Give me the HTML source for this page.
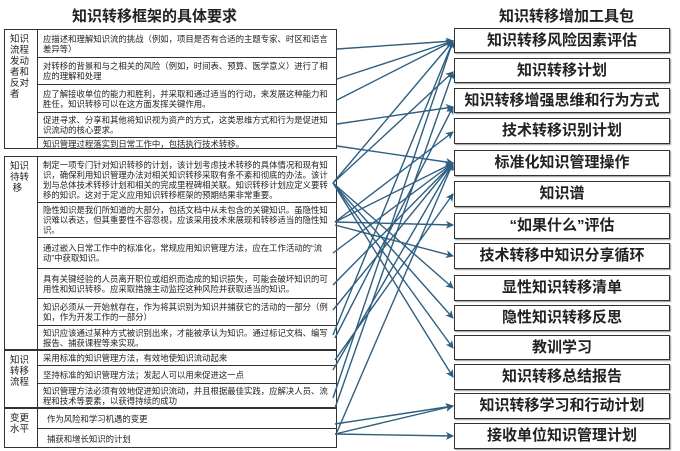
<!DOCTYPE html>
<html><head><meta charset="utf-8"><style>
*{margin:0;padding:0;box-sizing:border-box}
body{width:680px;height:451px;background:#fff;position:relative;overflow:hidden;font-family:"Liberation Sans","Noto Sans CJK SC",sans-serif;color:#222}
.a{position:absolute}
.t{font-weight:bold;font-size:15px;color:#222}
.sec{position:absolute;left:4px;width:333px;border:1px solid #333}
.lab{position:absolute;left:0;top:0;bottom:0;width:33px;border-right:1px solid #333;font-size:9.5px;line-height:11px;padding:4px 0 0 5px}
.row{position:absolute;left:33px;right:0;border-bottom:1px solid #333;font-size:8.4px;line-height:10px;padding:0 4px 0 5px;display:flex;align-items:center}
.row:last-child{border-bottom:none}
.box{position:absolute;left:454px;width:216px;border:1.5px solid #333;box-shadow:1px 1px 1px #999;font-weight:bold;font-size:15px;text-align:center;line-height:23px}
</style></head><body>
<div class="a t" style="left:72px;top:5px;">知识转移框架的具体要求</div>
<div class="a t" style="left:499px;top:5px;">知识转移增加工具包</div>

<div class="sec" style="top:29px;height:120px">
<div class="lab">知识<br>流程<br>发动<br>者和<br>反对<br>者</div>
<div class="row" style="top:0;height:28px">应描述和理解知识流的挑战（例如，项目是否有合适的主题专家、时区和语言差异等）</div>
<div class="row" style="top:28px;height:27px">对转移的背景和与之相关的风险（例如，时间表、预算、医学意义）进行了相应的理解和处理</div>
<div class="row" style="top:55px;height:28px">应了解接收单位的能力和胜利，并采取和通过适当的行动，来发展这种能力和胜任，知识转移可以在这方面发挥关键作用。</div>
<div class="row" style="top:83px;height:25px">促进寻求、分享和其他将知识视为资产的方式，这类思维方式和行为是促进知识流动的核心要求。</div>
<div class="row" style="top:108px;height:11px">知识管理过程落实到日常工作中，包括执行技术转移。</div>
</div>

<div class="sec" style="top:156px;height:194px">
<div class="lab">知识<br>待转<br>&nbsp;移</div>
<div class="row" style="top:0;height:46px">制定一项专门针对知识转移的计划，该计划考虑技术转移的具体情况和现有知识，确保利用知识管理办法对相关知识转移采取有条不紊和彻底的办法。该计划与总体技术转移计划和相关的完成里程碑相关联。知识转移计划应定义要转移的知识。这对于定义应用知识转移框架的预期结果非常重要。</div>
<div class="row" style="top:46px;height:35px">隐性知识是我们所知道的大部分，包括文档中从未包含的关键知识。虽隐性知识难以表达，但其重要性不容忽视，应该采用技术来展现和转移适当的隐性知识。</div>
<div class="row" style="top:81px;height:31px">通过嵌入日常工作中的标准化，常规应用知识管理方法，应在工作活动的“流动”中获取知识。</div>
<div class="row" style="top:112px;height:30px">具有关键经验的人员离开职位或组织而造成的知识损失，可能会破坏知识的可用性和知识转移。应采取措施主动监控这种风险并获取适当的知识。</div>
<div class="row" style="top:142px;height:27px">知识必须从一开始就存在，作为将其识别为知识并捕获它的活动的一部分（例如，作为开发工作的一部分）</div>
<div class="row" style="top:169px;height:24px">知识应该通过某种方式被识别出来，才能被承认为知识。通过标记文档、编写报告、捕获课程等来实现。</div>
</div>

<div class="sec" style="top:350px;height:58px">
<div class="lab">知识<br>转移<br>流程</div>
<div class="row" style="top:0;height:15px">采用标准的知识管理方法，有效地使知识流动起来</div>
<div class="row" style="top:15px;height:18px">坚持标准的知识管理方法；发起人可以用来促进这一点</div>
<div class="row" style="top:33px;height:24px">知识管理方法必须有效地促进知识流动，并且根据最佳实践，应解决人员、流程和技术等要素，以获得持续的成功</div>
</div>

<div class="sec" style="top:408px;height:40px">
<div class="lab">变更<br>水平</div>
<div class="row" style="top:0;height:20px;padding-left:9px">作为风险和学习机遇的变更</div>
<div class="row" style="top:20px;height:19px;padding-left:9px">捕获和增长知识的计划</div>
</div>

<div class="box" style="top:28px;height:25px">知识转移风险因素评估</div>
<div class="box" style="top:58px;height:25px">知识转移计划</div>
<div class="box" style="top:88px;height:25px">知识转移增强思维和行为方式</div>
<div class="box" style="top:118px;height:26px">技术转移识别计划</div>
<div class="box" style="top:150px;height:26px">标准化知识管理操作</div>
<div class="box" style="top:181px;height:26px">知识谱</div>
<div class="box" style="top:213px;height:26px">“如果什么”评估</div>
<div class="box" style="top:243px;height:26px">技术转移中知识分享循环</div>
<div class="box" style="top:275px;height:26px">显性知识转移清单</div>
<div class="box" style="top:305px;height:26px">隐性知识转移反思</div>
<div class="box" style="top:335px;height:25px">教训学习</div>
<div class="box" style="top:364px;height:26px">知识转移总结报告</div>
<div class="box" style="top:393px;height:26px">知识转移学习和行动计划</div>
<div class="box" style="top:423px;height:26px">接收单位知识管理计划</div>

<svg class="a" style="left:0;top:0" width="680" height="451">
<defs><marker id="m" markerWidth="8" markerHeight="8" refX="7" refY="4" orient="auto" markerUnits="userSpaceOnUse"><path d="M0,0 L8,4 L0,8 L2,4z" fill="#2e5f80"/></marker></defs>
<g stroke="#2e5f80" stroke-width="1.4" fill="none" marker-end="url(#m)">
<path d="M337,49 L453,41"/><path d="M337,79 L453,41"/><path d="M337,100 L453,41"/>
<path d="M337,124 L453,107"/><path d="M337,146 L453,163"/>
<path d="M333,183 L453,41"/><path d="M333,183 L453,72"/><path d="M333,183 L453,288"/>
<path d="M333,183 L453,318"/><path d="M333,183 L453,348"/><path d="M333,183 L453,377"/>
<path d="M335,222 L453,163"/><path d="M335,222 L453,132"/><path d="M335,222 L453,225"/><path d="M335,225 L453,256"/>
<path d="M333,253 L453,163"/><path d="M333,285 L453,163"/><path d="M333,310 L453,163"/>
<path d="M333,335 L453,41"/><path d="M335,338 L453,107"/><path d="M333,370 L453,163"/>
<path d="M335,360 L453,194"/><path d="M333,398 L453,41"/><path d="M335,408 L453,72"/>
<path d="M335,424 L453,406"/><path d="M335,434 L453,406"/><path d="M335,434 L453,436"/><path d="M337,432 L453,163"/>
</g></svg>
</body></html>
